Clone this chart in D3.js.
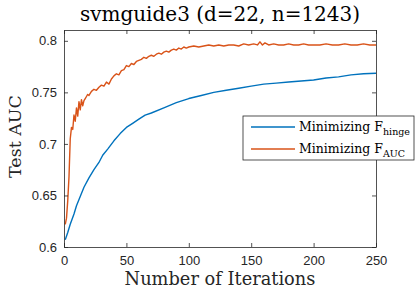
<!DOCTYPE html>
<html>
<head>
<meta charset="utf-8">
<script src="https://cdn.jsdelivr.net/npm/d3@7"></script>
<style>
  body { margin: 0; background: #fff; }
  svg { display: block; }
</style>
</head>
<body>
<div id="chart"></div>
<script>
// iterations / test AUC
const hingeIter = [1, 3, 5, 8, 10, 13, 16, 20, 24, 28, 31, 35, 40, 45, 50, 55, 60, 65, 70, 80, 90, 100, 110, 120, 130, 140, 150, 160, 170, 180, 190, 200, 210, 220, 230, 240, 250];
const hingeAUC = [0.607, 0.614, 0.622, 0.632, 0.640, 0.649, 0.658, 0.667, 0.675, 0.682, 0.689, 0.695, 0.703, 0.710, 0.716, 0.720, 0.724, 0.728, 0.730, 0.735, 0.740, 0.744, 0.747, 0.750, 0.752, 0.754, 0.756, 0.758, 0.759, 0.760, 0.761, 0.762, 0.764, 0.765, 0.767, 0.768, 0.7686];

const aucIter = [1, 2, 3, 4, 5, 6, 7, 8, 9, 10, 11, 12, 13, 14, 15, 16, 17, 18, 19, 20,
  22, 24, 26, 28, 30, 32, 34, 36, 38, 40, 42, 44, 46, 48, 50, 52, 54, 56, 58, 60,
  62, 64, 66, 68, 70, 72, 74, 76, 78, 80, 82, 84, 86, 88, 90, 92, 94, 96, 98, 100,
  104, 108, 112, 116, 120, 124, 128, 132, 136, 140, 144, 148, 152, 155, 157, 159, 161, 164, 168, 172,
  176, 180, 184, 188, 192, 196, 200, 205, 210, 215, 220, 225, 230, 235, 240, 245, 250];
const aucAUC = [0.622, 0.628, 0.645, 0.668, 0.705, 0.716, 0.714, 0.728, 0.722, 0.735, 0.727, 0.741, 0.733, 0.743, 0.737, 0.742, 0.744, 0.746, 0.748, 0.747,
  0.751, 0.753, 0.752, 0.755, 0.757, 0.756, 0.760, 0.758, 0.763, 0.766, 0.768, 0.767, 0.771, 0.772, 0.776, 0.775, 0.778, 0.777, 0.780, 0.781,
  0.782, 0.784, 0.783, 0.785, 0.786, 0.785, 0.787, 0.788, 0.787, 0.789, 0.790, 0.789, 0.791, 0.792, 0.791, 0.793, 0.792, 0.794, 0.793, 0.794,
  0.795, 0.794, 0.795, 0.796, 0.795, 0.796, 0.795, 0.796, 0.796, 0.795, 0.797, 0.796, 0.797, 0.796, 0.799, 0.796, 0.798, 0.796, 0.797, 0.796,
  0.796, 0.797, 0.796, 0.796, 0.797, 0.796, 0.796, 0.796, 0.797, 0.796, 0.796, 0.797, 0.796, 0.796, 0.797, 0.796, 0.796];

const xTicks = [0, 50, 100, 150, 200, 250];
const yTicks = [0.6, 0.65, 0.7, 0.75, 0.8];

const W = 415, H = 291;
const m = {left: 64, right: 39, top: 30, bottom: 44};
const iw = W - m.left - m.right, ih = H - m.top - m.bottom;

const x = d3.scaleLinear().domain([0, 250]).range([0, iw]);
const y = d3.scaleLinear().domain([0.6, 0.8105]).range([ih, 0]);

const svg = d3.select("#chart").append("svg").attr("width", W).attr("height", H);
const g = svg.append("g").attr("transform", "translate(" + m.left + "," + m.top + ")");

const axisCol = "#262626";
const serif = "'DejaVu Serif', 'Liberation Serif', serif";
const sans = "'Liberation Sans', Arial, sans-serif";

// lines first, box over them
const line = d3.line().x(d => x(d[0])).y(d => y(d[1]));
const series = [
  {name: "hinge", color: "#0072BD", pts: d3.zip(hingeIter, hingeAUC)},
  {name: "AUC", color: "#D95319", pts: d3.zip(aucIter, aucAUC)}
];
g.selectAll("path.s").data(series).enter().append("path")
  .attr("class", "s")
  .attr("d", d => line(d.pts))
  .attr("fill", "none")
  .attr("stroke", d => d.color)
  .attr("stroke-width", 1.4)
  .attr("stroke-linejoin", "round");

// axes, ticks inward, box on
function styleAxis(sel) {
  sel.select(".domain").attr("stroke", axisCol).attr("stroke-width", 0.8);
  sel.selectAll(".tick line").attr("stroke", axisCol).attr("stroke-width", 0.8);
  sel.selectAll(".tick text").attr("fill", axisCol).style("font-family", sans).style("font-size", "13px");
}
g.append("g").attr("transform", "translate(0," + ih + ")")
  .call(d3.axisBottom(x).tickValues(xTicks).tickSizeInner(-4).tickSizeOuter(0).tickPadding(9).tickFormat(d3.format("d")))
  .call(styleAxis);
g.append("g")
  .call(d3.axisLeft(y).tickValues(yTicks).tickSizeInner(-4).tickSizeOuter(0).tickPadding(7).tickFormat(d => String(d)))
  .call(styleAxis);
g.append("g")
  .call(d3.axisTop(x).tickValues(xTicks).tickSizeInner(-4).tickSizeOuter(0).tickFormat(""))
  .call(styleAxis);
g.append("g").attr("transform", "translate(" + iw + ",0)")
  .call(d3.axisRight(y).tickValues(yTicks).tickSizeInner(-4).tickSizeOuter(0).tickFormat(""))
  .call(styleAxis);

// title and labels
svg.append("text").attr("x", m.left + iw / 2).attr("y", 21)
  .attr("text-anchor", "middle").style("font-family", serif).style("font-size", "20px")
  .attr("fill", "#000")
  .text("svmguide3 (d=22, n=1243)");
svg.append("text").attr("x", m.left + iw / 2).attr("y", 285)
  .attr("text-anchor", "middle").style("font-family", serif).style("font-size", "17.8px")
  .attr("fill", axisCol).text("Number of Iterations");
svg.append("text").attr("transform", "translate(21," + (m.top + ih / 2 - 2) + ") rotate(-90)")
  .attr("text-anchor", "middle").style("font-family", serif).style("font-size", "17.5px")
  .attr("fill", axisCol).text("Test AUC");

// legend
const leg = svg.append("g").attr("transform", "translate(243,116)");
leg.append("rect").attr("width", 171).attr("height", 44)
  .attr("fill", "#fff").attr("stroke", axisCol).attr("stroke-width", 0.8);
const subs = ["hinge", "AUC"];
series.forEach((s, i) => {
  const yy = 11 + i * 22;
  leg.append("line").attr("x1", 8).attr("x2", 52).attr("y1", yy).attr("y2", yy)
    .attr("stroke", s.color).attr("stroke-width", 1.4);
  const t = leg.append("text").attr("x", 56).attr("y", yy + 4)
    .style("font-family", serif).style("font-size", "12.5px").attr("fill", "#000");
  t.append("tspan").text("Minimizing F");
  t.append("tspan").attr("dy", 4).style("font-size", "9.5px").text(subs[i]);
});
</script>
</body>
</html>
